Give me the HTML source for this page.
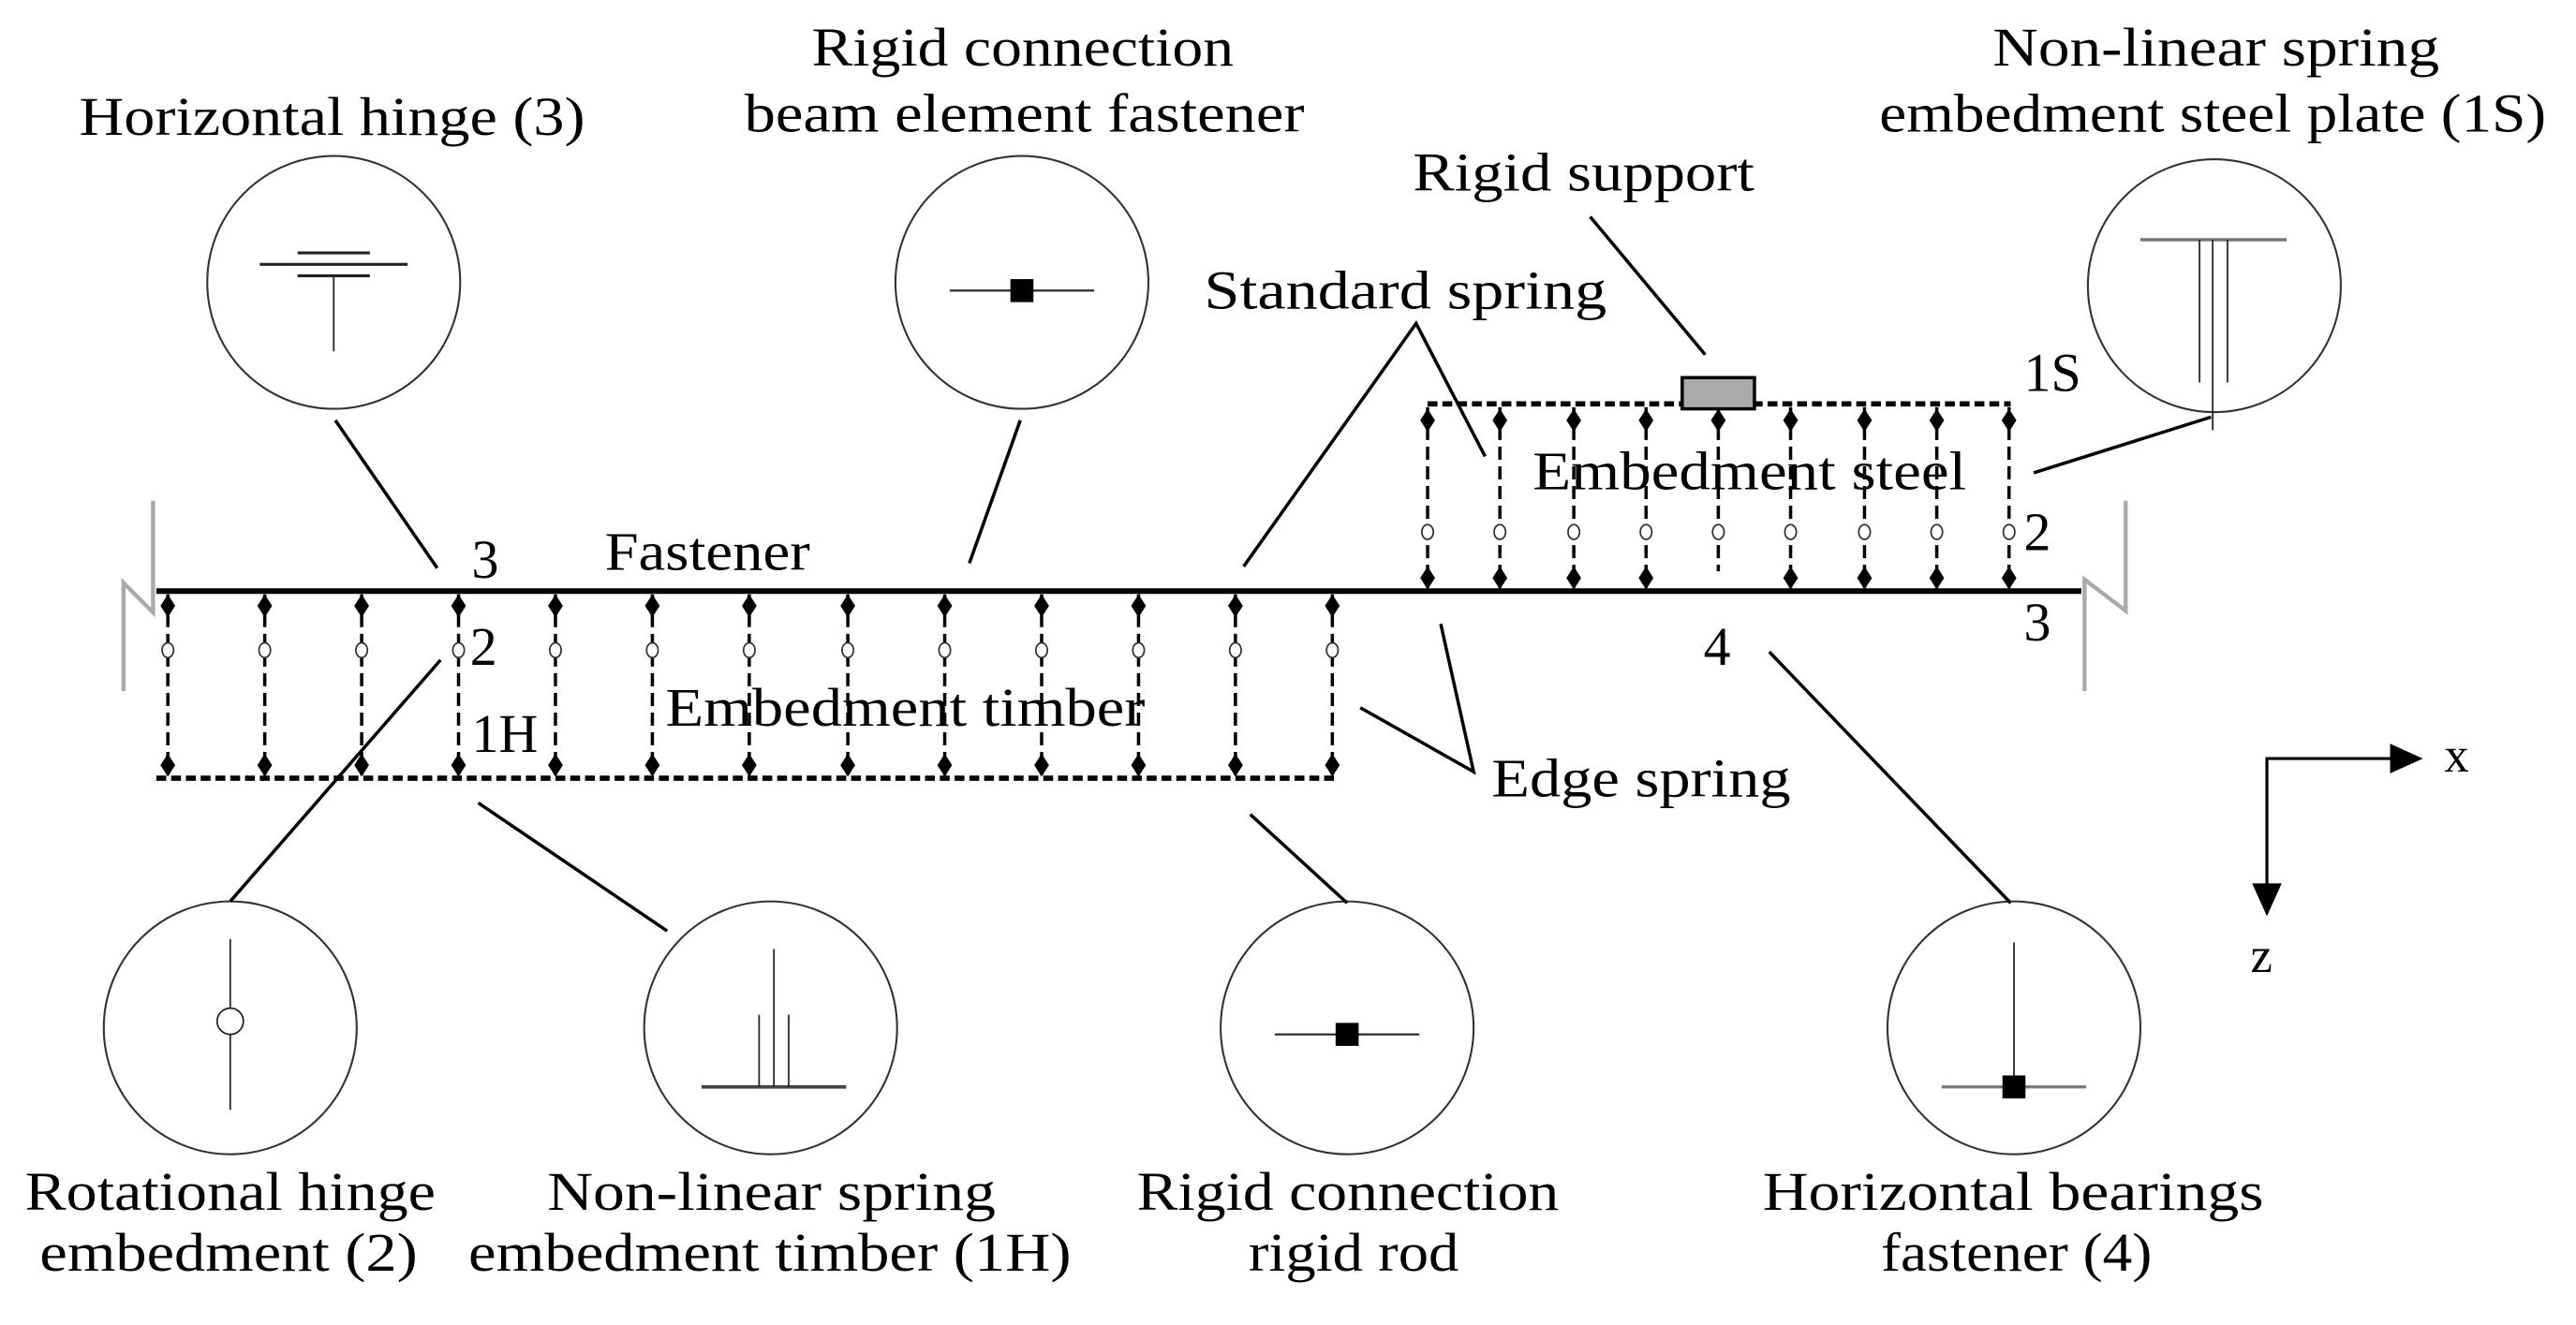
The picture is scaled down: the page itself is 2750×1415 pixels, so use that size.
<!DOCTYPE html>
<html><head><meta charset="utf-8"><style>
html,body{margin:0;padding:0;background:#fff;}
svg{display:block;}
text{font-family:"Liberation Serif",serif;font-size:33px;fill:#000;}
</style></head><body>
<svg width="2750" height="1415" viewBox="0 0 1568 807" xmlns="http://www.w3.org/2000/svg">
<defs>
<path id="dm" d="M0,-7 L4.5,0 L0,7 L-4.5,0 Z" fill="#000"/>
</defs>
<!-- top labels -->
<text x="48" y="82" textLength="308" lengthAdjust="spacingAndGlyphs">Horizontal hinge (3)</text>
<text x="494" y="40" textLength="257" lengthAdjust="spacingAndGlyphs">Rigid connection</text>
<text x="453" y="80" textLength="341" lengthAdjust="spacingAndGlyphs">beam element fastener</text>
<text x="1213" y="40" textLength="272" lengthAdjust="spacingAndGlyphs">Non-linear spring</text>
<text x="1144" y="80" textLength="406" lengthAdjust="spacingAndGlyphs">embedment steel plate (1S)</text>
<text x="860" y="116" textLength="208" lengthAdjust="spacingAndGlyphs">Rigid support</text>
<text x="733" y="188" textLength="245" lengthAdjust="spacingAndGlyphs">Standard spring</text>
<!-- circles -->
<g fill="none" stroke="#333" stroke-width="1.2">
<circle cx="203" cy="172" r="77"/>
<circle cx="622" cy="172" r="77"/>
<circle cx="1348" cy="174" r="77"/>
<circle cx="140" cy="626" r="77"/>
<circle cx="469" cy="626" r="77"/>
<circle cx="820" cy="626" r="77"/>
<circle cx="1226" cy="626" r="77"/>
</g>
<g stroke="#222" fill="none">
<line x1="181" y1="154" x2="225" y2="154" stroke-width="1.8"/>
<line x1="158" y1="161" x2="248" y2="161" stroke-width="1.8"/>
<line x1="181" y1="168" x2="225" y2="168" stroke-width="1.8"/>
<line x1="203" y1="168" x2="203" y2="214" stroke-width="1"/>
<line x1="578" y1="177" x2="666" y2="177" stroke-width="1.2"/>
<line x1="1303" y1="146" x2="1392" y2="146" stroke="#777" stroke-width="2"/>
<line x1="1339" y1="146" x2="1339" y2="233" stroke-width="1"/>
<line x1="1347" y1="146" x2="1347" y2="262" stroke-width="1"/>
<line x1="1356" y1="146" x2="1356" y2="233" stroke-width="1"/>
<line x1="140" y1="572" x2="140" y2="676" stroke-width="1"/>
<line x1="427" y1="662" x2="515" y2="662" stroke="#444" stroke-width="2.2"/>
<line x1="471" y1="578" x2="471" y2="662" stroke-width="1"/>
<line x1="462" y1="618" x2="462" y2="662" stroke-width="1"/>
<line x1="480" y1="618" x2="480" y2="662" stroke-width="1"/>
<line x1="776" y1="630" x2="864" y2="630" stroke-width="1.2"/>
<line x1="1226" y1="574" x2="1226" y2="662" stroke-width="1"/>
<line x1="1182" y1="662" x2="1270" y2="662" stroke="#777" stroke-width="1.8"/>
</g>
<circle cx="140" cy="622" r="8" fill="#fff" stroke="#222" stroke-width="1"/>
<rect x="615" y="170" width="14" height="14" fill="#000"/>
<rect x="813" y="623" width="14" height="14" fill="#000"/>
<rect x="1219" y="655" width="14" height="14" fill="#000"/>
<!-- leaders -->
<g stroke="#000" stroke-width="2" fill="none">
<line x1="204" y1="256" x2="266" y2="346"/>
<line x1="621" y1="256" x2="590" y2="343"/>
<polyline points="757,345 862,197 904,278"/>
<line x1="968" y1="132" x2="1038" y2="216"/>
<line x1="1238" y1="288" x2="1346" y2="254"/>
<line x1="268" y1="402" x2="140" y2="549"/>
<line x1="291" y1="489" x2="406" y2="567"/>
<line x1="761" y1="496" x2="820" y2="550"/>
<line x1="1077" y1="397" x2="1224" y2="550"/>
<polyline points="828,431 897,470 877,380"/>
</g>
<g stroke="#aaa" stroke-width="2.5" fill="none">
<polyline points="93,305 93,373 75,355 75,421"/>
<polyline points="1294,305 1294,372 1269,353 1269,421"/>
</g>
<!-- timber springs -->
<g stroke="#000" stroke-width="2" stroke-dasharray="8,4" fill="none">
<line x1="102" y1="362" x2="102" y2="472"/><line x1="161" y1="362" x2="161" y2="472"/>
<line x1="220" y1="362" x2="220" y2="472"/><line x1="279" y1="362" x2="279" y2="472"/>
<line x1="338" y1="362" x2="338" y2="472"/><line x1="397" y1="362" x2="397" y2="472"/>
<line x1="456" y1="362" x2="456" y2="472"/><line x1="516" y1="362" x2="516" y2="472"/>
<line x1="575" y1="362" x2="575" y2="472"/><line x1="634" y1="362" x2="634" y2="472"/>
<line x1="693" y1="362" x2="693" y2="472"/><line x1="752" y1="362" x2="752" y2="472"/>
<line x1="811" y1="362" x2="811" y2="472"/>
</g>
<line x1="95" y1="474" x2="813" y2="474" stroke="#000" stroke-width="3.2" stroke-dasharray="6,3"/>
<g>
<use href="#dm" x="102" y="369"/><use href="#dm" x="161" y="369"/><use href="#dm" x="220" y="369"/><use href="#dm" x="279" y="369"/><use href="#dm" x="338" y="369"/><use href="#dm" x="397" y="369"/><use href="#dm" x="456" y="369"/><use href="#dm" x="516" y="369"/><use href="#dm" x="575" y="369"/><use href="#dm" x="634" y="369"/><use href="#dm" x="693" y="369"/><use href="#dm" x="752" y="369"/><use href="#dm" x="811" y="369"/>
<use href="#dm" x="102" y="466"/><use href="#dm" x="161" y="466"/><use href="#dm" x="220" y="466"/><use href="#dm" x="279" y="466"/><use href="#dm" x="338" y="466"/><use href="#dm" x="397" y="466"/><use href="#dm" x="456" y="466"/><use href="#dm" x="516" y="466"/><use href="#dm" x="575" y="466"/><use href="#dm" x="634" y="466"/><use href="#dm" x="693" y="466"/><use href="#dm" x="752" y="466"/><use href="#dm" x="811" y="466"/>
</g>
<g fill="#fff" stroke="#333" stroke-width="1">
<ellipse cx="102" cy="396" rx="3.5" ry="4.5"/><ellipse cx="161" cy="396" rx="3.5" ry="4.5"/><ellipse cx="220" cy="396" rx="3.5" ry="4.5"/><ellipse cx="279" cy="396" rx="3.5" ry="4.5"/><ellipse cx="338" cy="396" rx="3.5" ry="4.5"/><ellipse cx="397" cy="396" rx="3.5" ry="4.5"/><ellipse cx="456" cy="396" rx="3.5" ry="4.5"/><ellipse cx="516" cy="396" rx="3.5" ry="4.5"/><ellipse cx="575" cy="396" rx="3.5" ry="4.5"/><ellipse cx="634" cy="396" rx="3.5" ry="4.5"/><ellipse cx="693" cy="396" rx="3.5" ry="4.5"/><ellipse cx="752" cy="396" rx="3.5" ry="4.5"/><ellipse cx="811" cy="396" rx="3.5" ry="4.5"/>
</g>
<!-- steel springs -->
<g stroke="#000" stroke-width="2" stroke-dasharray="8,4" fill="none">
<line x1="869" y1="248" x2="869" y2="358"/><line x1="913" y1="248" x2="913" y2="358"/>
<line x1="958" y1="248" x2="958" y2="358"/><line x1="1002" y1="248" x2="1002" y2="358"/>
<line x1="1046" y1="248" x2="1046" y2="348"/><line x1="1090" y1="248" x2="1090" y2="358"/>
<line x1="1135" y1="248" x2="1135" y2="358"/><line x1="1179" y1="248" x2="1179" y2="358"/>
<line x1="1223" y1="248" x2="1223" y2="358"/>
</g>
<line x1="869" y1="246" x2="1224" y2="246" stroke="#000" stroke-width="3.2" stroke-dasharray="6,3"/>
<g>
<use href="#dm" x="869" y="256"/><use href="#dm" x="913" y="256"/><use href="#dm" x="958" y="256"/><use href="#dm" x="1002" y="256"/><use href="#dm" x="1046" y="256"/><use href="#dm" x="1090" y="256"/><use href="#dm" x="1135" y="256"/><use href="#dm" x="1179" y="256"/><use href="#dm" x="1223" y="256"/>
<use href="#dm" x="869" y="352"/><use href="#dm" x="913" y="352"/><use href="#dm" x="958" y="352"/><use href="#dm" x="1002" y="352"/><use href="#dm" x="1090" y="352"/><use href="#dm" x="1135" y="352"/><use href="#dm" x="1179" y="352"/><use href="#dm" x="1223" y="352"/>
</g>
<g fill="#fff" stroke="#333" stroke-width="1">
<ellipse cx="869" cy="324" rx="3.5" ry="4.5"/><ellipse cx="913" cy="324" rx="3.5" ry="4.5"/><ellipse cx="958" cy="324" rx="3.5" ry="4.5"/><ellipse cx="1002" cy="324" rx="3.5" ry="4.5"/><ellipse cx="1046" cy="324" rx="3.5" ry="4.5"/><ellipse cx="1090" cy="324" rx="3.5" ry="4.5"/><ellipse cx="1135" cy="324" rx="3.5" ry="4.5"/><ellipse cx="1179" cy="324" rx="3.5" ry="4.5"/><ellipse cx="1223" cy="324" rx="3.5" ry="4.5"/>
</g>
<rect x="1024" y="230" width="44" height="19" fill="#aaa" stroke="#000" stroke-width="2"/>
<line x1="95" y1="360" x2="1267" y2="360" stroke="#000" stroke-width="3.4"/>
<text x="368" y="347" textLength="125" lengthAdjust="spacingAndGlyphs">Fastener</text>
<text x="405" y="442" textLength="292" lengthAdjust="spacingAndGlyphs">Embedment timber</text>
<text x="933" y="298" textLength="264" lengthAdjust="spacingAndGlyphs">Embedment steel</text>
<text x="908" y="485" textLength="182" lengthAdjust="spacingAndGlyphs">Edge spring</text>
<text x="287" y="352">3</text>
<text x="286" y="405">2</text>
<text x="287" y="458">1H</text>
<text x="1232" y="238">1S</text>
<text x="1232" y="335">2</text>
<text x="1232" y="390">3</text>
<text x="1037" y="405">4</text>
<g stroke="#000" stroke-width="1.8" fill="none">
<polyline points="1457,462 1380,462 1380,540"/>
</g>
<polygon points="1455,453 1475,462 1455,471" fill="#000"/>
<polygon points="1371,538 1380,558 1389,538" fill="#000"/>
<text x="1488" y="470" style="font-size:30px">x</text>
<text x="1370" y="592" style="font-size:30px">z</text>
<text x="15" y="737" textLength="250" lengthAdjust="spacingAndGlyphs">Rotational hinge</text>
<text x="24" y="774" textLength="230" lengthAdjust="spacingAndGlyphs">embedment (2)</text>
<text x="333" y="737" textLength="273" lengthAdjust="spacingAndGlyphs">Non-linear spring</text>
<text x="285" y="774" textLength="367" lengthAdjust="spacingAndGlyphs">embedment timber (1H)</text>
<text x="692" y="737" textLength="257" lengthAdjust="spacingAndGlyphs">Rigid connection</text>
<text x="760" y="774" textLength="128" lengthAdjust="spacingAndGlyphs">rigid rod</text>
<text x="1073" y="737" textLength="305" lengthAdjust="spacingAndGlyphs">Horizontal bearings</text>
<text x="1145" y="774" textLength="165" lengthAdjust="spacingAndGlyphs">fastener (4)</text>
</svg>
</body></html>
